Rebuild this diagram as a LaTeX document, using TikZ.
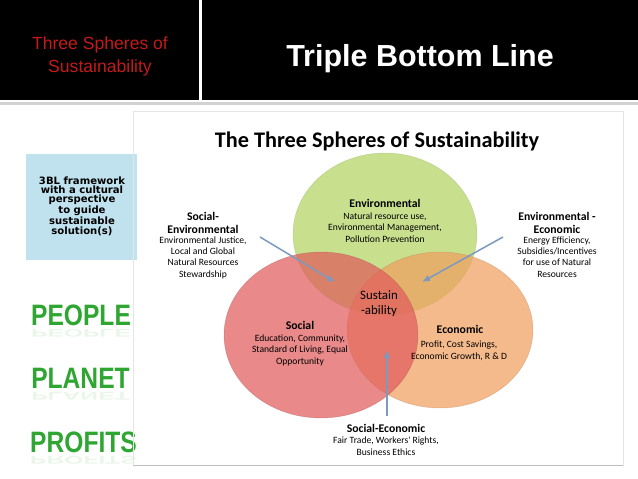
\documentclass[tikz,border=0pt]{standalone}
\usepackage{fontspec}
\setmainfont{Liberation Sans}
\newfontfamily\calib{Carlito}
\newfontfamily\dejab{DejaVu Sans}
\usetikzlibrary{arrows.meta}
\definecolor{slidered}{HTML}{C41A1A}
\definecolor{boxblue}{HTML}{C0E2EE}
\definecolor{envgreen}{HTML}{C8E08E}
\definecolor{socred}{HTML}{E05C5C}
\definecolor{ecoorange}{HTML}{F0A060}
\definecolor{arrowblue}{HTML}{7C9AC0}
\definecolor{pgreen}{HTML}{30A632}
\tikzset{
  sphere/.style={fill opacity=0.72, draw opacity=0.35, line width=0.4pt},
  head/.style={font=\calib\bfseries\fontsize{10}{10.5}\selectfont, align=center, inner sep=0pt, anchor=base},
  body/.style={font=\calib\fontsize{8.2}{9.4}\selectfont, align=center, inner sep=0pt, anchor=base},
  link/.style={-{Latex[length=2.4mm,width=2mm]}, line width=1.3pt, color=arrowblue},
  slogan/.style={font=\bfseries\fontsize{21}{21}\selectfont, text=pgreen, inner sep=0pt, anchor=base}
}

\begin{document}
\begin{tikzpicture}[x=0.03cm, y=-0.03cm]
\useasboundingbox (0,0) rectangle (638,479);

% slide header (base anchors sit on the last line)
\fill[black] (0,0) rectangle (638,100);
\fill[white] (199,0) rectangle (202,100);
\fill[gray!35] (0,102) rectangle (638,105);
\node[font=\fontsize{15}{19.5}\selectfont, text=slidered, align=center, inner sep=0pt, anchor=base] (sidetitle) at (100,72) {Three Spheres of\\Sustainability};
\node[font=\bfseries\fontsize{26}{30}\selectfont, text=white, inner sep=0pt, anchor=base] (maintitle) at (420,67) {Triple Bottom Line};

% left column
\fill[boxblue] (26,154) rectangle (137,260);
\node[font=\dejab\bfseries\fontsize{8.6}{7.9}\selectfont, align=center, inner sep=0pt, anchor=base] (frame) at (82,234) {3BL framework\\with a cultural\\perspective\\to guide\\sustainable\\solution(s)};
\foreach \word/\xx/\yy in {PEOPLE/81/325, PLANET/80.5/388, PROFITS/83.5/452} {
  \node[slogan, opacity=0.1] at (\xx,\yy+4) {\scalebox{1}[-0.45]{\word}};
  \node[slogan] (\word) at (\xx,\yy) {\scalebox{1}[1.2]{\word}};
}

% diagram
\draw[gray!20] (133,111) rectangle (623,465);
\draw[gray!50] (133,465) -- (623,465);
\node[font=\calib\bfseries\fontsize{19}{22}\selectfont, inner sep=0pt, anchor=base] (diagtitle) at (377,148) {The Three Spheres of Sustainability};

\fill[envgreen] (385,234) ellipse [x radius=92, y radius=81];
\draw[envgreen!70!black, draw opacity=0.35] (385,234) ellipse [x radius=92, y radius=81];
\draw[sphere, fill=ecoorange, draw=ecoorange!70!black] (440,330) ellipse [x radius=93, y radius=78];
\draw[sphere, fill=socred, draw=socred!70!black] (321,335) ellipse [x radius=97, y radius=83];

\node[head] (env) at (385,207) {Environmental};
\node[body] (envtxt) at (385,242) {Natural resource use,\\Environmental Management,\\Pollution Prevention};

\node[head] (socenv) at (203,233) {Social-\\Environmental};
\node[body] (socenvtxt) at (203,277) {Environmental Justice,\\Local and Global\\Natural Resources\\Stewardship};

\node[head] (enveco) at (557,233) {Environmental -\\Economic};
\node[body] (envecotxt) at (557,277) {Energy Efficiency,\\Subsidies/Incentives\\for use of Natural\\Resources};

\node[font=\calib\fontsize{11}{12}\selectfont, align=center, inner sep=0pt, anchor=base] (sustain) at (379,314) {Sustain\\-ability};

\node[head] (soc) at (300,329) {Social};
\node[body] (soctxt) at (300,364) {Education, Community,\\Standard of Living, Equal\\Opportunity};

\node[head] (eco) at (460,333) {Economic};
\node[body] (ecotxt) at (459,359) {Profit, Cost Savings,\\Economic Growth, R \& D};

\node[head] (soceco) at (386,432) {Social-Economic};
\node[body] (socecotxt) at (386,455) {Fair Trade, Workers' Rights,\\Business Ethics};

% arrows
\coordinate (seFrom) at (260,237);
\coordinate (seTo) at (335,282);
\coordinate (eeFrom) at (503,237);
\coordinate (eeTo) at (422,282);
\coordinate (sxFrom) at (387,416);
\coordinate (sxTo) at (387,350);
\draw[link] (seFrom) -- (seTo);
\draw[link] (eeFrom) -- (eeTo);
\draw[link] (sxFrom) -- (sxTo);
\end{tikzpicture}
\end{document}
